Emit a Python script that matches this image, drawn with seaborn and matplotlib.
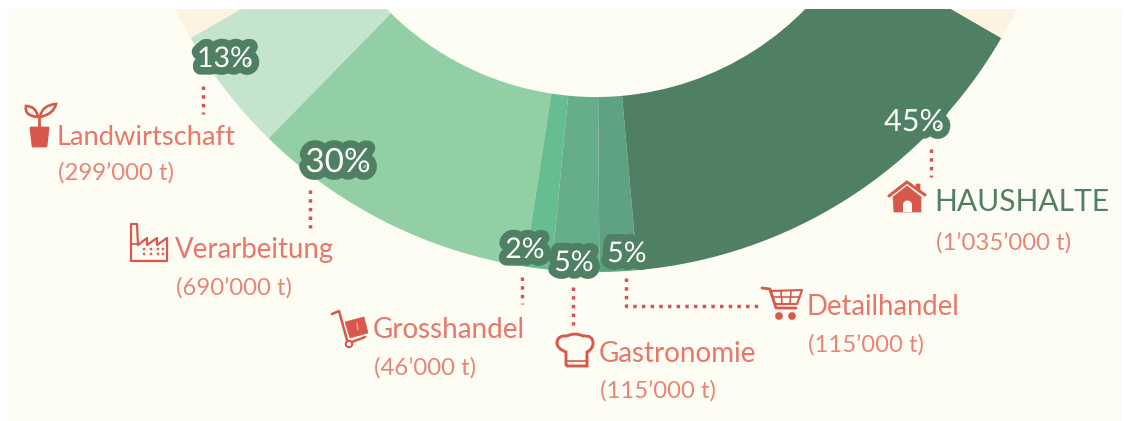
import matplotlib
matplotlib.use("Agg")
import matplotlib.pyplot as plt
import matplotlib.patheffects as pe
from matplotlib.patches import Circle, Polygon, PathPatch, Rectangle
from matplotlib.path import Path
import seaborn as sns

# Daten
sectors = ["Landwirtschaft", "Verarbeitung", "Grosshandel", "Gastronomie", "Detailhandel", "HAUSHALTE"]
# Anteile (Bogenbreite der Sektoren)
arc_share = [13, 29.7, 2.75, 4.9, 3.9, 45.75]
percent_labels = ["13%", "30%", "2%", "5%", "5%", "45%"]
tonne_labels = ["(299’000 t)", "(690’000 t)", "(46’000 t)", "(115’000 t)", "(115’000 t)", "(1’035’000 t)"]

# Farben
slice_colors = ["#c5e4cd", "#93cfa5", "#66bd90", "#66ad89", "#5fa283", "#508063"]
ring_color = "#fcf4e0"
bg_color = "#fefdf3"
dark_green = "#4f8064"
text_red = "#e8766b"
sub_red = "#ea8479"
icon_red = "#d8594c"
dot_red = "#d9505a"

# Positionen in Pixeln des Bildes (y nach unten)
percent_pos = [(225, 59), (338, 163), (525, 250), (574, 263), (627, 254), (914, 122)]
percent_size = [20.5, 24, 20.5, 20.5, 20.5, 22]
name_pos = [(56, 145), (175, 258), (373, 338), (599, 362), (806, 315), (934, 211)]
sub_pos = [(58, 180), (176, 295), (374, 375), (600, 398), (808, 352), (936, 250)]
name_size = [19.7, 19.9, 20, 20, 19.8, 21.6]
leaders = [
    [(203, 86), (203, 114)],
    [(310, 190), (310, 228)],
    [(522, 277), (522, 304)],
    [(573, 287), (573, 325)],
    [(626, 278), (626, 306), (760, 306)],
    [(931, 149), (931, 177)],
]

sns.set_theme(style="white")
plt.rcParams["font.family"] = ["Lato", "DejaVu Sans"]

fig = plt.figure(figsize=(11.24, 4.21), dpi=100, facecolor="white")
ax = fig.add_axes([7 / 1124, 0, 1115 / 1124, 412 / 421])


def py(y):
    return 421 - y


def pts(points):
    return [(x, py(y)) for x, y in points]


# Ring: die Sektoren belegen einen Drittel des Kreises
rest = 2 * sum(arc_share)
wedges, _ = ax.pie(arc_share + [rest], colors=slice_colors + [ring_color], startangle=210, counterclock=True,
                   center=(596, py(-196)), radius=468, wedgeprops={"width": 175, "linewidth": 0})
ax.set_xlim(7, 1122)
ax.set_ylim(0, 412)
ax.set_aspect("equal")
ax.set_frame_on(True)
ax.set_facecolor(bg_color)
sns.despine(ax=ax, left=True, bottom=True, top=True, right=True)
for w in wedges:
    w.set_clip_on(True)
    w.set_clip_path(ax.patch)

# gepunktete Linien
for line_pts in leaders:
    p = pts(line_pts)
    ax.plot([a for a, b in p], [b for a, b in p], color=dot_red, lw=2.5,
            ls=(0, (1.0, 1.5)), dash_capstyle="butt", zorder=3)

# Prozentwerte
for i, lab in enumerate(percent_labels):
    x, y = percent_pos[i]
    ax.text(x, py(y), lab, ha="center", va="center", color="#fbfdf6", fontsize=percent_size[i], zorder=6,
            path_effects=[pe.withStroke(linewidth=11, foreground=dark_green)])

# Beschriftung
for i, name in enumerate(sectors):
    col = dark_green if name == "HAUSHALTE" else text_red
    ax.text(name_pos[i][0], py(name_pos[i][1]), name, ha="left", va="baseline", color=col,
            fontsize=name_size[i], zorder=5)
    ax.text(sub_pos[i][0], py(sub_pos[i][1]), tonne_labels[i], ha="left", va="baseline", color=sub_red,
            fontsize=17.2, zorder=5)


def poly(points, fill=True, lw=2, color=icon_red, closed=True):
    ax.add_patch(Polygon(pts(points), closed=closed, fill=fill, facecolor=color if fill else "none",
                         edgecolor=color, lw=lw, joinstyle="round", zorder=5))


def line(points, lw=2, color=icon_red):
    p = pts(points)
    ax.plot([a for a, b in p], [b for a, b in p], color=color, lw=lw, solid_capstyle="round", zorder=5)


def dot(x, y, r, fill=True, lw=1.5):
    ax.add_patch(Circle((x, py(y)), r, facecolor=icon_red if fill else "none", edgecolor=icon_red, lw=lw, zorder=5))


def curve(points, codes, lw=2, fill="none"):
    ax.add_patch(PathPatch(Path(pts(points), codes), facecolor=fill, edgecolor=icon_red, lw=lw, zorder=5))


C3, L, M = Path.CURVE3, Path.LINETO, Path.MOVETO

# Pflanze
poly([(31, 128), (48, 128), (46, 146), (33, 146)])
line([(39, 128), (39, 117)])
curve([(38, 117), (24, 116), (26, 106), (36, 106), (38, 117)], [M, C3, C3, C3, C3], lw=1.9)
curve([(40, 117), (42, 105), (56, 104), (54, 114), (40, 117)], [M, C3, C3, C3, C3], lw=1.9)

# Fabrik
poly([(131, 261), (131, 224), (137, 224), (138, 245), (147, 238), (147, 245), (157, 238), (157, 245),
      (167, 238), (167, 261)], fill=False, lw=1.6)
line([(131, 244), (137, 244)], lw=1.2)
for wx in [144, 151, 158, 163]:
    dot(wx, 249, 1.0, lw=0.5)
    dot(wx, 254, 1.0, lw=0.5)

# Sackkarre
line([(332, 314), (339, 311), (347, 340)], lw=1.8)
line([(352, 342), (365, 337)], lw=1.8)
dot(349, 344, 3.2, fill=False)
poly([(345, 322), (364, 317), (368, 333), (350, 338)], lw=0.5)
line([(357, 323), (358, 330)], lw=1, color="#f0a59a")

# Kochmuetze
curve([(566, 366), (566, 352), (556, 348), (557, 342), (558, 335), (567, 336), (575, 332), (583, 336),
       (593, 335), (593, 343), (593, 349), (587, 352), (587, 366), (566, 366)],
      [M, L, C3, C3, C3, C3, C3, C3, C3, C3, C3, C3, L, L], lw=2.1)
line([(566, 361), (587, 361)], lw=1.2)

# Einkaufswagen
line([(762, 288), (770, 289), (776, 308), (796, 308)], lw=2)
poly([(770, 291), (802, 290), (797, 304), (775, 304)], fill=False, lw=1.5)
line([(773, 297), (800, 297)], lw=1.2)
line([(781, 291), (782, 304)], lw=1.2)
line([(791, 291), (790, 304)], lw=1.2)
dot(779, 316, 2.8)
dot(792, 316, 2.8)

# Haus
poly([(893, 197), (907, 186), (921, 197), (921, 212), (894, 212)], lw=0.5)
line([(889, 196), (907, 182), (925, 195)], lw=2.2)
poly([(916, 184), (920, 184), (920, 191), (916, 188)], lw=0.5)
ax.add_patch(Rectangle((903, py(212)), 9, 7, facecolor=bg_color, edgecolor="none", zorder=6))
ax.add_patch(Circle((907.5, py(205)), 4.5, facecolor=bg_color, edgecolor="none", zorder=6))

fig.savefig("out.png", dpi=100, facecolor="white")
